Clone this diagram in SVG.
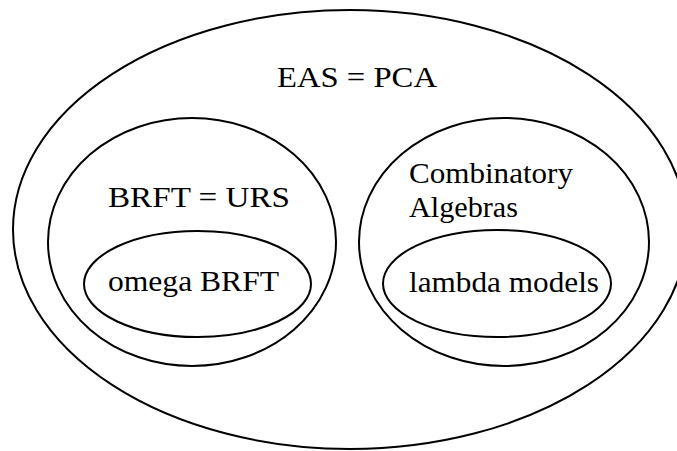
<svg xmlns="http://www.w3.org/2000/svg" width="677" height="451" viewBox="0 0 677 451">
  <style>
    .set { fill: none; stroke: #000; stroke-width: 2; }
    .lbl { font-family: 'Liberation Serif', 'DejaVu Serif', 'Times New Roman', serif; font-size: 29px; fill: #000; }
  </style>
  <rect width="677" height="451" fill="#fff"/>
  <g id="eas-pca">
    <ellipse class="set" cx="350" cy="229.5" rx="337" ry="219.5"/>
    <text class="lbl" x="277" y="87" textLength="160" lengthAdjust="spacingAndGlyphs">EAS = PCA</text>
  </g>
  <g id="brft-urs">
    <ellipse class="set" cx="192" cy="242" rx="144" ry="124"/>
    <text class="lbl" x="108" y="207" textLength="182" lengthAdjust="spacingAndGlyphs">BRFT = URS</text>
  </g>
  <g id="omega-brft">
    <ellipse class="set" cx="197.5" cy="284" rx="113.5" ry="53"/>
    <text class="lbl" x="108" y="291" textLength="171" lengthAdjust="spacingAndGlyphs">omega BRFT</text>
  </g>
  <g id="combinatory-algebras">
    <ellipse class="set" cx="504" cy="242" rx="145" ry="124"/>
    <text class="lbl" x="409" y="183" textLength="164" lengthAdjust="spacingAndGlyphs">Combinatory</text>
    <text class="lbl" x="409" y="217" textLength="109" lengthAdjust="spacingAndGlyphs">Algebras</text>
  </g>
  <g id="lambda-models">
    <ellipse class="set" cx="497" cy="283.5" rx="114" ry="53.5"/>
    <text class="lbl" x="409" y="292" textLength="190" lengthAdjust="spacingAndGlyphs">lambda models</text>
  </g>
  <g id="connectors"/>
</svg>
